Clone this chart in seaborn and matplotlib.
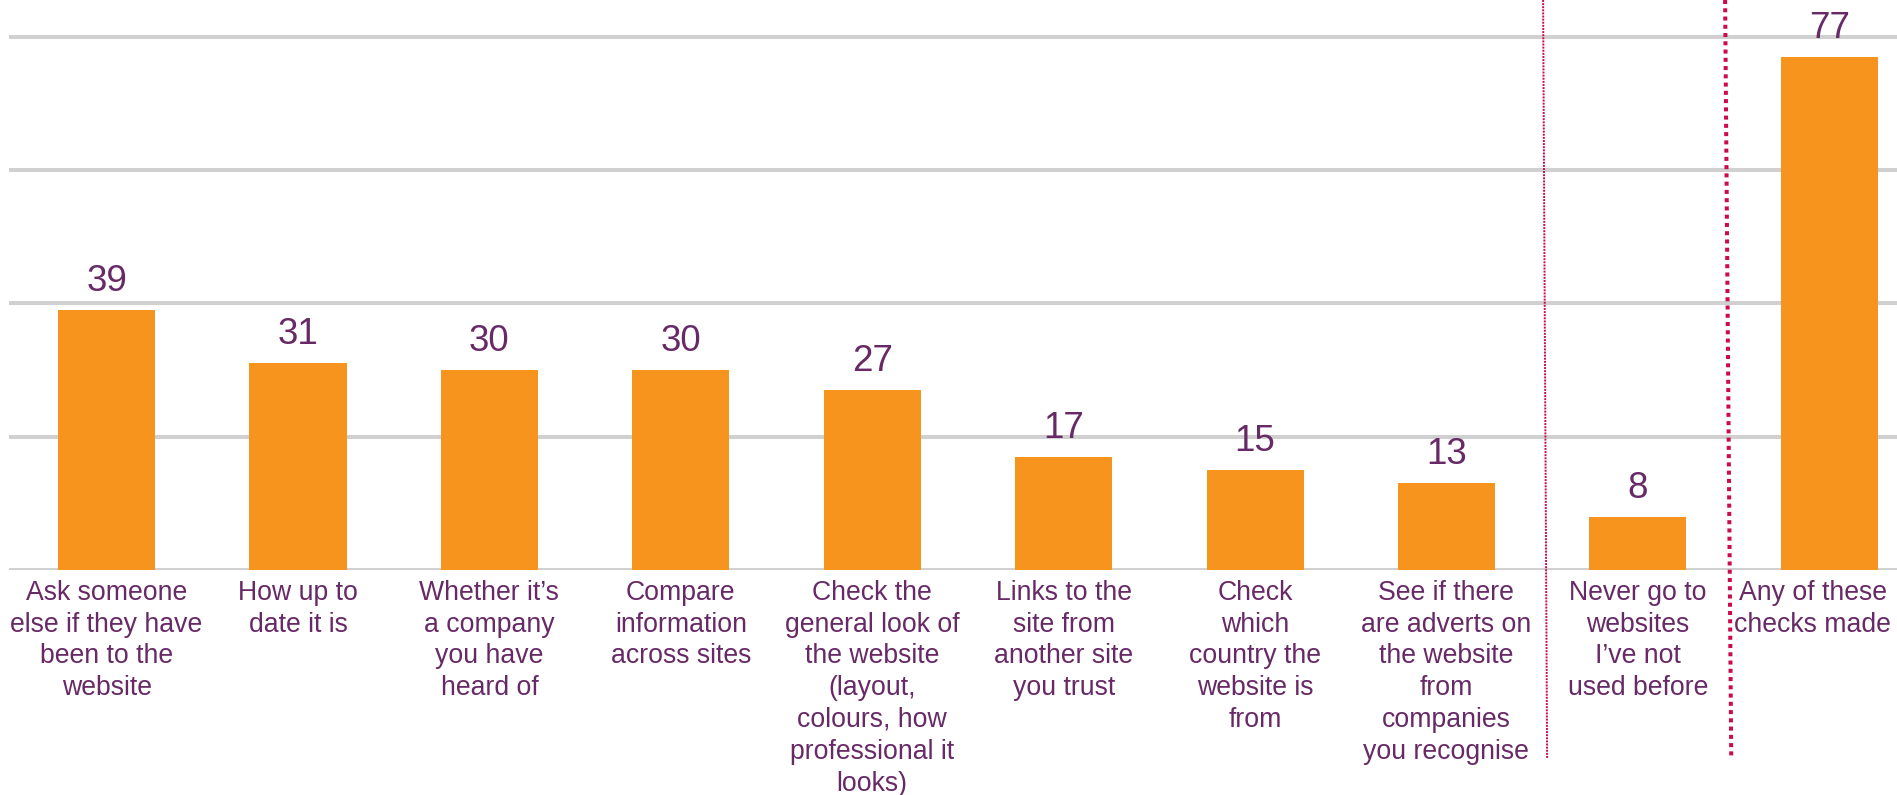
import matplotlib
matplotlib.use("Agg")
import matplotlib.pyplot as plt
import seaborn as sns
import pandas as pd

# Share of people making each check before using a new website (%)
categories = [
    "Ask someone\nelse if they have\nbeen to the\nwebsite",
    "How up to\ndate it is",
    "Whether it\u2019s\na company\nyou have\nheard of",
    "Compare\ninformation\nacross sites",
    "Check the\ngeneral look of\nthe website\n(layout,\ncolours, how\nprofessional it\nlooks)",
    "Links to the\nsite from\nanother site\nyou trust",
    "Check\nwhich\ncountry the\nwebsite is\nfrom",
    "See if there\nare adverts on\nthe website\nfrom\ncompanies\nyou recognise",
    "Never go to\nwebsites\nI\u2019ve not\nused before",
    "Any of these\nchecks made",
]
values = [39, 31, 30, 30, 27, 17, 15, 13, 8, 77]
gridline_values = [0, 20, 40, 60, 80]

ORANGE = "#F7941D"
PURPLE = "#682A67"
GRID = "#D0D0D0"
DIVIDER = "#CC0A4E"

sns.set_theme(style="white")
plt.rcParams["font.family"] = ["Liberation Sans", "DejaVu Sans"]

fig = plt.figure(figsize=(18.97, 7.95), dpi=100)
ax = fig.add_axes([9 / 1897, 225 / 795, 1888 / 1897, 570 / 795])

df = pd.DataFrame({"label": categories, "value": values})
sns.barplot(data=df, x="label", y="value", color=ORANGE, saturation=1,
            width=0.507, linewidth=0, ax=ax, zorder=3)

ax.set_xlim(-0.51, 9.354)
ax.set_ylim(0, 85.55)
ax.set_yticks(gridline_values)
ax.set_yticklabels([])
ax.yaxis.grid(True, color=GRID, linewidth=2.9, zorder=0)
ax.set_axisbelow(True)
ax.tick_params(axis="both", length=0)
ax.set_xticks(range(len(categories)))
ax.set_xticklabels([])
ax.set_xlabel("")
ax.set_ylabel("")
for s in ax.spines.values():
    s.set_visible(False)

# value labels above bars
ax.bar_label(ax.containers[0], labels=[str(v) for v in values], padding=8,
             fontsize=26.5, color=PURPLE, zorder=4)

# category labels below the baseline
for i, lab in enumerate(categories):
    dx = -12 if i == len(categories) - 1 else 0
    ax.annotate(lab, xy=(i, 0), xycoords=("data", "axes fraction"),
                xytext=(dx, -7), textcoords="offset points",
                ha="center", va="top", fontsize=19.2, color=PURPLE,
                linespacing=1.29, annotation_clip=False)

# dotted dividers separating the summary columns
trans = ax.get_xaxis_transform()
ax.plot([7.505, 7.526], [1.0, -0.33], transform=trans, clip_on=False,
        color=DIVIDER, linewidth=1.4, linestyle=(0, (1, 0.6)),
        dash_capstyle="butt", zorder=5)
ax.plot([8.456, 8.488], [1.0, -0.33], transform=trans, clip_on=False,
        color=DIVIDER, linewidth=2.9, linestyle=(0, (1, 1.05)),
        dash_capstyle="butt", zorder=5)

fig.savefig("out.png", dpi=100)
